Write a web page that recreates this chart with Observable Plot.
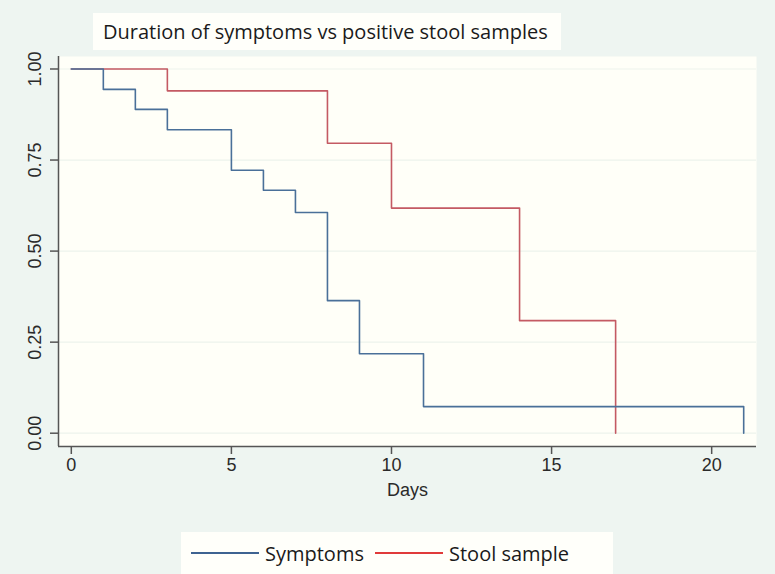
<!DOCTYPE html>
<html>
<head>
<meta charset="utf-8">
<script src="https://cdn.jsdelivr.net/npm/d3@7"></script>
<script src="https://cdn.jsdelivr.net/npm/@observablehq/plot@0.6"></script>
<style>
  html, body { margin: 0; padding: 0; background: #eef5f1; }
  #wrap { position: relative; width: 775px; height: 574px; background: #eef5f1; overflow: hidden; }
  #chart { position: absolute; left: 0; top: 0; }
  #title { position: absolute; left: 93px; top: 13px; width: 468px; height: 37px; background: #fffffa;
           font-family: "Open Sans", sans-serif; font-size: 20px; color: #1a1a1a; line-height: 37px;
           box-sizing: border-box; padding-left: 10px; white-space: nowrap; }
  #legend { position: absolute; left: 181px; top: 532px; width: 432px; height: 42px; background: #fffffa;
            font-family: "Open Sans", sans-serif; font-size: 20px; color: #1a1a1a; }
  .item { position: absolute; top: 0; height: 42px; display: flex; align-items: center; }
  .sw { display: inline-block; width: 68px; height: 0; border-top: 2px solid; margin-right: 6px; }
</style>
</head>
<body>
<div id="wrap">
  <div id="chart"></div>
  <div id="title"></div>
  <div id="legend"></div>
</div>
<script>
const titleText = "Duration of symptoms vs positive stool samples";
const xLabel = "Days";
const seriesNames = ["Symptoms", "Stool sample"];
const seriesColors = ["#4a7099", "#c45a63"];
const legendColors = ["#3e6391", "#e03a3a"];

const symptomDays = [0, 1, 2, 3, 5, 6, 7, 8, 9, 11, 21];
const symptomSurv = [1, 0.944, 0.889, 0.833, 0.722, 0.667, 0.606, 0.364, 0.218, 0.073, 0];
const stoolDays = [0, 3, 8, 10, 14, 17];
const stoolSurv = [1, 0.94, 0.796, 0.618, 0.309, 0];

const xTicks = [0, 5, 10, 15, 20];
const yTicks = [0, 0.25, 0.5, 0.75, 1];

const symptoms = symptomDays.map((d, i) => ({day: d, s: symptomSurv[i]}));
const stool = stoolDays.map((d, i) => ({day: d, s: stoolSurv[i]}));

const axisColor = "#555";
const tickFont = "Liberation Sans, Arial, sans-serif";
const textColor = "#2a2a2a";

const chart = Plot.plot({
  width: 775,
  height: 530,
  marginLeft: 58,
  marginRight: 19,
  marginTop: 56,
  marginBottom: 84,
  style: {background: "transparent", fontFamily: tickFont, fontSize: "18px", color: textColor},
  x: {domain: [-0.4, 21.4], label: null},
  y: {domain: [-0.0365, 1.0343], label: null},
  marks: [
    Plot.frame({fill: "#fffff8", stroke: null}),
    Plot.gridY(yTicks, {stroke: "#edf3ec", strokeOpacity: 1, strokeWidth: 1.2}),
    Plot.line(stool, {x: "day", y: "s", curve: "step-after", stroke: seriesColors[1], strokeWidth: 1.6}),
    Plot.line(symptoms, {x: "day", y: "s", curve: "step-after", stroke: seriesColors[0], strokeWidth: 1.6}),
    Plot.axisX({ticks: xTicks, tickFormat: d => String(d), tickSize: 8, tickPadding: 4, stroke: axisColor, strokeWidth: 1.5, fill: textColor, fontSize: 18, label: null}),
    Plot.axisY({ticks: yTicks, tickFormat: () => "", tickSize: 8, stroke: axisColor, strokeWidth: 1.5, label: null}),
    Plot.text(yTicks, {y: d => d, text: d => d.toFixed(2), frameAnchor: "left", dx: -23, rotate: -90, textAnchor: "middle", fill: textColor, fontSize: 18}),
    Plot.ruleX([-0.4], {stroke: axisColor, strokeWidth: 1.5}),
    Plot.ruleY([-0.0365], {stroke: axisColor, strokeWidth: 1.5}),
    Plot.text([xLabel], {frameAnchor: "bottom", lineAnchor: "middle", dy: 44, fill: textColor, fontSize: 18})
  ]
});
document.getElementById("chart").appendChild(chart);

document.getElementById("title").textContent = titleText;
const legend = document.getElementById("legend");
const lefts = [10, 194];
seriesNames.forEach((n, i) => {
  const it = document.createElement("div");
  it.className = "item";
  it.style.left = lefts[i] + "px";
  const sw = document.createElement("span");
  sw.className = "sw";
  sw.style.borderTopColor = legendColors[i];
  it.appendChild(sw);
  const t = document.createElement("span");
  t.textContent = n;
  it.appendChild(t);
  legend.appendChild(it);
});
</script>
</body>
</html>
